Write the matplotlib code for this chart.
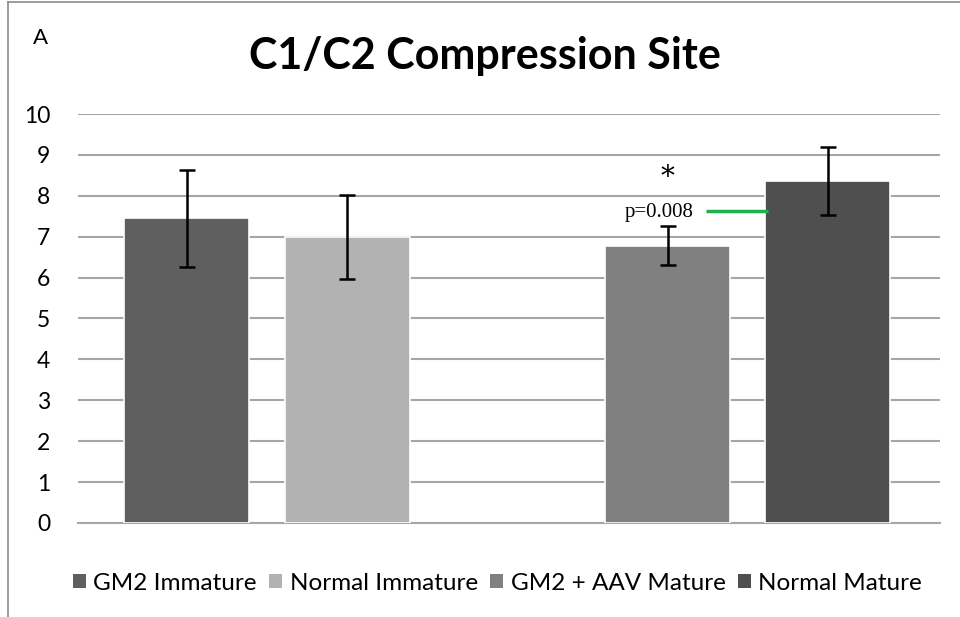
#!/usr/bin/env python3
"""Bar chart: C1/C2 compression site, four groups with SEM error bars."""

import matplotlib

matplotlib.use("Agg")
import matplotlib.pyplot as plt
from matplotlib.lines import Line2D
from matplotlib.patches import Patch

# ── data ─────────────────────────────────────────────────────────────────────
groups = ["GM2 Immature", "Normal Immature", "GM2 + AAV Mature", "Normal Mature"]
means = [7.45, 7.0, 6.78, 8.37]
errors = [1.19, 1.03, 0.48, 0.83]
slots = [0, 1, 3, 4]  # slot 2 left empty, as in the original
colors = ["#5f5f5f", "#b2b2b2", "#808080", "#4f4f4f"]
y_ticks = list(range(0, 11))
p_label = "p=0.008"

FONT = ["Lato", "DejaVu Sans"]
plt.rcParams["font.family"] = FONT

fig = plt.figure(figsize=(9.6, 6.17), dpi=100)
ax = fig.add_axes([0.08125, 0.1524, 0.979 - 0.08125, 0.8152 - 0.1524])

ax.bar(slots, means, width=0.78, color=colors, edgecolor="white",
       linewidth=1.2, zorder=3)
ax.errorbar(slots, means, yerr=errors, fmt="none", ecolor="black",
            elinewidth=1.8, capsize=6, capthick=1.8, zorder=4)

ax.set_xlim(-0.68, 4.70)
ax.set_ylim(0, 10)
ax.set_yticks(y_ticks)
ax.set_xticks([])
ax.tick_params(axis="y", length=0, labelsize=16.5, pad=20)
ax.yaxis.grid(True, color="#a6a6a6", linewidth=1.5, zorder=0)
ax.set_axisbelow(True)
for side in ("left", "right", "top"):
    ax.spines[side].set_visible(False)
ax.spines["bottom"].set_color("#a6a6a6")
ax.spines["bottom"].set_linewidth(1.5)

# significance annotation
ax.text(3.0, 8.45, "*", family="DejaVu Serif", fontsize=20,
        ha="center", va="center", zorder=5)
ax.text(2.95, 7.6, p_label, family="Liberation Serif", fontsize=15,
        ha="center", va="center", zorder=5)
ax.plot([3.24, 3.63], [7.63, 7.63], color="#1db04f", linewidth=2.5,
        solid_capstyle="butt", zorder=5)

fig.text(0.505, 0.91, "C1/C2 Compression Site", fontsize=31,
         fontweight="bold", ha="center", va="center")
fig.text(0.042, 0.938, "A", fontsize=16, ha="center", va="center")

handles = [Patch(facecolor=c, edgecolor="none") for c in colors]
fig.legend(handles, groups, loc="center", bbox_to_anchor=(0.518, 0.055),
           ncol=4, frameon=False, fontsize=17.5, handlelength=0.55,
           handleheight=0.55, handletextpad=0.3, columnspacing=0.5)

# partial outer frame (left and top edges only)
fig.add_artist(Line2D([0.0085, 0.0085], [0, 0.996], color="#8c8c8c",
                      linewidth=1.2, transform=fig.transFigure))
fig.add_artist(Line2D([0.0085, 1.0], [0.996, 0.996], color="#8c8c8c",
                      linewidth=1.2, transform=fig.transFigure))

fig.savefig("out.png", dpi=100)
